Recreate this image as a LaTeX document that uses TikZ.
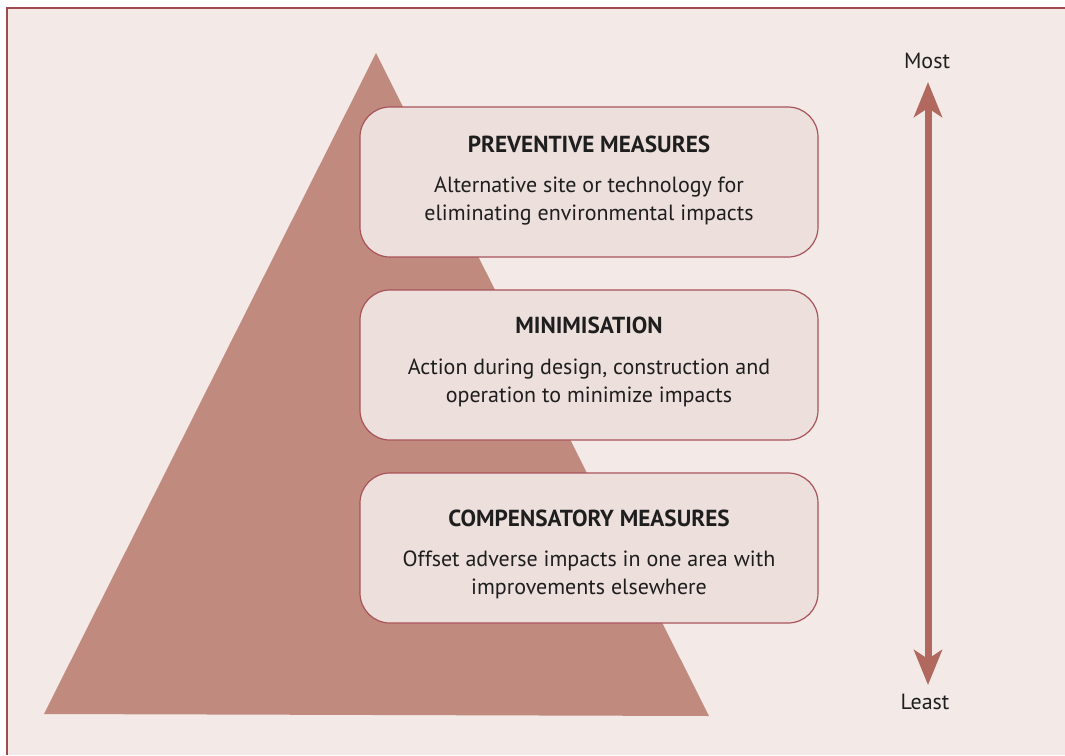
\documentclass[tikz,border=0pt]{standalone}
\usepackage{fontspec}
\setmainfont{PT Sans}
\usetikzlibrary{arrows.meta}
\definecolor{hiBg}{HTML}{F3EAE7}
\definecolor{hiFrame}{HTML}{A04A50}
\definecolor{hiPyr}{HTML}{C08A7E}
\definecolor{hiBox}{HTML}{ECDFDC}
\definecolor{hiEdge}{HTML}{A9535A}
\definecolor{hiArrow}{HTML}{B0685F}
\definecolor{hiInk}{HTML}{1E1E1E}

\begin{document}
\begin{tikzpicture}[
    x=0.5pt, y=-0.5pt,
    tier/.style={draw=hiEdge, line width=0.6pt, fill=hiBox, rounded corners=15pt,
                 minimum width=229pt, minimum height=75pt},
    head/.style={font=\fontsize{11.6}{13}\selectfont\bfseries, text=hiInk},
    body/.style={font=\fontsize{11}{14}\selectfont, text=hiInk, align=center},
    ends/.style={font=\fontsize{11}{13}\selectfont, text=hiInk},
    scale arrow/.style={{Stealth[length=17.5pt, width=14pt, inset=4.5pt]}-{Stealth[length=17.5pt, width=14pt, inset=4.5pt]},
                        line width=3.5pt, draw=hiArrow, fill=hiArrow},
]
\useasboundingbox (0,0) rectangle (1065,755);

% ---- Panel ----
\fill[hiBg] (7,8) rectangle (1065,755);
\draw[hiFrame, line width=1pt] (7,755) -- (7,8) -- (1065,8);

% ---- Pyramid ----
\fill[hiPyr] (44,714) -- (376,53) -- (709,716) -- cycle;

% ---- Tiers ----
\node[tier] (prev) at (589,182) {};
\node[head] (prevT) at (589,144) {PREVENTIVE MEASURES};
\node[body] (prevB) at (589,201) {Alternative site or technology for\\eliminating environmental impacts};

\node[tier] (mini) at (589,365) {};
\node[head] (miniT) at (589,325) {MINIMISATION};
\node[body] (miniB) at (589,383) {Action during design, construction and\\operation to minimize impacts};

\node[tier] (comp) at (589,548) {};
\node[head] (compT) at (589,518) {COMPENSATORY MEASURES};
\node[body] (compB) at (589,575) {Offset adverse impacts in one area with\\improvements elsewhere};

% ---- Scale ----
\node[ends] (most) at (927,61) {Most};
\node[ends] (least) at (925,702) {Least};
\coordinate (top) at (928,82);
\coordinate (bot) at (928,685);
\draw[scale arrow] (bot) -- (top);

\end{tikzpicture}
\end{document}
